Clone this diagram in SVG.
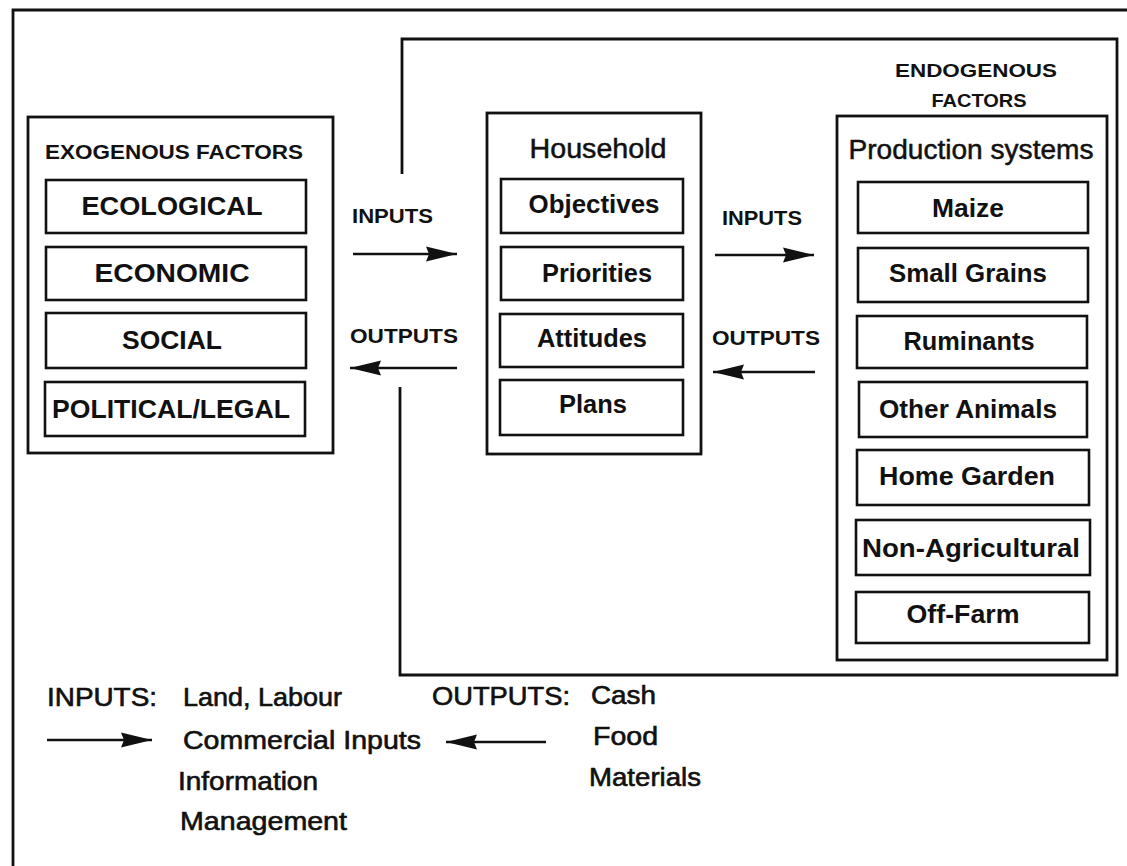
<svg xmlns="http://www.w3.org/2000/svg" width="1127" height="866" viewBox="0 0 1127 866">
<style>
.box{fill:none;stroke:#111;stroke-width:2.8}
.sub{fill:none;stroke:#111;stroke-width:2.6}
.ln{fill:none;stroke:#111;stroke-width:2.8}
.arr{fill:none;stroke:#111;stroke-width:2.4}
text{font-family:"Liberation Sans",Arial,sans-serif;fill:#111}
.hd{font-size:21px;font-weight:bold;text-anchor:middle}
.lb{font-size:26px;font-weight:bold;text-anchor:middle}
.tt{font-size:27px;text-anchor:middle;stroke:#111;stroke-width:0.5}
.fl{font-size:20px;font-weight:bold}
.lg{font-size:25px;stroke:#111;stroke-width:0.6}
</style>
<defs>
<marker id="ah" markerUnits="userSpaceOnUse" markerWidth="34" markerHeight="18" refX="31" refY="9" orient="auto">
<path d="M0,1.5 L31,9 L0,16.5 L3,9 z" fill="#111"/>
</marker>
</defs>
<rect width="1127" height="866" fill="#fff"/>

<g id="frame">
<path class="ln" d="M13,866 V10 H1127"/>
</g>

<g id="connectors">
<path class="ln" d="M402,174 V39 H1117 V675 H400 V387"/>
<line class="arr" x1="353" y1="254" x2="457" y2="254" marker-end="url(#ah)"/>
<line class="arr" x1="457" y1="368" x2="350" y2="368" marker-end="url(#ah)"/>
<line class="arr" x1="715" y1="255" x2="814" y2="255" marker-end="url(#ah)"/>
<line class="arr" x1="815" y1="372" x2="713" y2="372" marker-end="url(#ah)"/>
<text class="fl" x="352" y="223" textLength="81" lengthAdjust="spacingAndGlyphs">INPUTS</text>
<text class="fl" x="350" y="343" textLength="108" lengthAdjust="spacingAndGlyphs">OUTPUTS</text>
<text class="fl" x="722" y="225" textLength="80" lengthAdjust="spacingAndGlyphs">INPUTS</text>
<text class="fl" x="712" y="345" textLength="108" lengthAdjust="spacingAndGlyphs">OUTPUTS</text>
</g>

<g id="exogenous">
<rect class="box" x="28" y="117" width="305" height="336"/>
<text class="hd" x="174" y="159" textLength="258" lengthAdjust="spacingAndGlyphs">EXOGENOUS FACTORS</text>
<rect class="sub" x="46" y="180" width="260" height="53"/>
<text class="lb" x="172" y="215" textLength="181" lengthAdjust="spacingAndGlyphs">ECOLOGICAL</text>
<rect class="sub" x="46" y="247" width="260" height="53"/>
<text class="lb" x="172" y="282" textLength="155" lengthAdjust="spacingAndGlyphs">ECONOMIC</text>
<rect class="sub" x="46" y="313" width="260" height="55"/>
<text class="lb" x="172" y="349" textLength="100" lengthAdjust="spacingAndGlyphs">SOCIAL</text>
<rect class="sub" x="45" y="382" width="260" height="54"/>
<text class="lb" x="171" y="418" textLength="238" lengthAdjust="spacingAndGlyphs">POLITICAL/LEGAL</text>
</g>

<g id="household">
<rect class="box" x="487" y="113" width="214" height="341"/>
<text class="tt" x="598" y="158" textLength="137" lengthAdjust="spacingAndGlyphs">Household</text>
<rect class="sub" x="501" y="179" width="182" height="54"/>
<text class="lb" x="594" y="213" textLength="131" lengthAdjust="spacingAndGlyphs">Objectives</text>
<rect class="sub" x="501" y="247" width="182" height="53"/>
<text class="lb" x="597" y="282" textLength="110" lengthAdjust="spacingAndGlyphs">Priorities</text>
<rect class="sub" x="500" y="314" width="183" height="53"/>
<text class="lb" x="592" y="347" textLength="110" lengthAdjust="spacingAndGlyphs">Attitudes</text>
<rect class="sub" x="500" y="380" width="183" height="55"/>
<text class="lb" x="593" y="413" textLength="68" lengthAdjust="spacingAndGlyphs">Plans</text>
</g>

<g id="endogenous">
<text class="hd" x="976" y="77" style="font-size:19px" textLength="162" lengthAdjust="spacingAndGlyphs">ENDOGENOUS</text>
<text class="hd" x="979" y="107" style="font-size:19px" textLength="95" lengthAdjust="spacingAndGlyphs">FACTORS</text>
<rect class="box" x="837" y="116" width="270" height="544"/>
<text class="tt" x="971" y="159" textLength="245" lengthAdjust="spacingAndGlyphs">Production systems</text>
<rect class="sub" x="858" y="182" width="230" height="51"/>
<text class="lb" x="968" y="217" textLength="72" lengthAdjust="spacingAndGlyphs">Maize</text>
<rect class="sub" x="858" y="248" width="230" height="54"/>
<text class="lb" x="968" y="282" textLength="158" lengthAdjust="spacingAndGlyphs">Small Grains</text>
<rect class="sub" x="857" y="316" width="230" height="52"/>
<text class="lb" x="969" y="350" textLength="131" lengthAdjust="spacingAndGlyphs">Ruminants</text>
<rect class="sub" x="859" y="382" width="228" height="55"/>
<text class="lb" x="968" y="418" textLength="178" lengthAdjust="spacingAndGlyphs">Other Animals</text>
<rect class="sub" x="857" y="450" width="232" height="55"/>
<text class="lb" x="967" y="485" textLength="176" lengthAdjust="spacingAndGlyphs">Home Garden</text>
<rect class="sub" x="856" y="520" width="234" height="55"/>
<text class="lb" x="971" y="557" textLength="218" lengthAdjust="spacingAndGlyphs">Non-Agricultural</text>
<rect class="sub" x="856" y="592" width="233" height="51"/>
<text class="lb" x="963" y="623" textLength="113" lengthAdjust="spacingAndGlyphs">Off-Farm</text>
</g>

<g id="legend">
<text class="lg" x="47" y="706" textLength="110" lengthAdjust="spacingAndGlyphs">INPUTS:</text>
<text class="lg" x="183" y="706" textLength="159" lengthAdjust="spacingAndGlyphs">Land, Labour</text>
<text class="lg" x="183" y="749" textLength="238" lengthAdjust="spacingAndGlyphs">Commercial Inputs</text>
<text class="lg" x="178" y="790" textLength="140" lengthAdjust="spacingAndGlyphs">Information</text>
<text class="lg" x="180" y="830" textLength="167" lengthAdjust="spacingAndGlyphs">Management</text>
<line class="arr" x1="47" y1="740" x2="152" y2="740" marker-end="url(#ah)"/>
<text class="lg" x="432" y="705" textLength="138" lengthAdjust="spacingAndGlyphs">OUTPUTS:</text>
<text class="lg" x="591" y="704" textLength="65" lengthAdjust="spacingAndGlyphs">Cash</text>
<text class="lg" x="593" y="745" textLength="65" lengthAdjust="spacingAndGlyphs">Food</text>
<text class="lg" x="589" y="786" textLength="112" lengthAdjust="spacingAndGlyphs">Materials</text>
<line class="arr" x1="546" y1="742" x2="446" y2="742" marker-end="url(#ah)"/>
</g>
</svg>
